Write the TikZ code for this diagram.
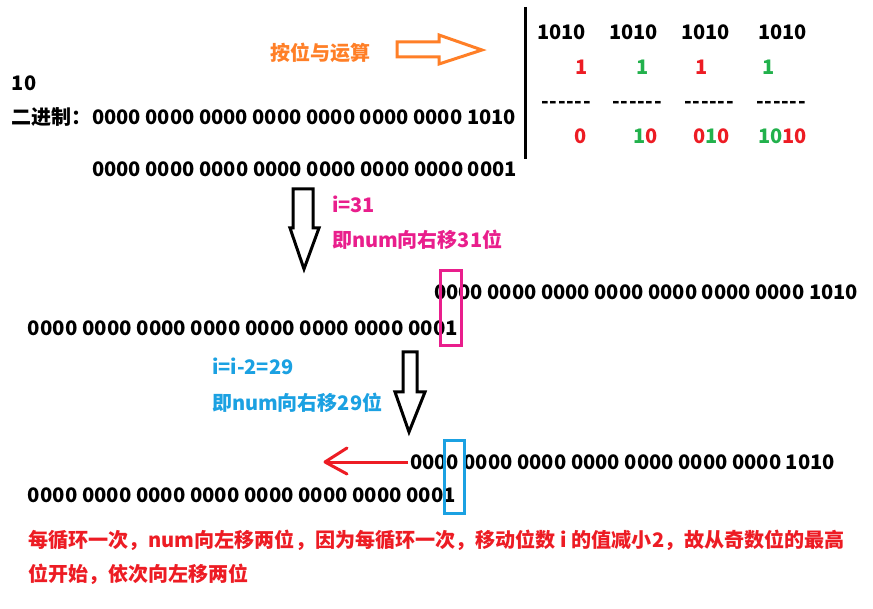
\documentclass[tikz,border=0pt]{standalone}
\usepackage{fontspec}
\setmainfont{Noto Sans CJK SC}
\usepackage{graphicx}
\definecolor{redc}{HTML}{ED1C24}
\definecolor{greenc}{HTML}{22B14C}
\definecolor{orangec}{HTML}{FF7F27}
\definecolor{pinkc}{HTML}{E91E8C}
\definecolor{bluec}{HTML}{1BA1E2}
\newcommand\fitw[2]{\resizebox{#1pt}{\height}{#2}}
\newcommand\onedash{\makebox[8.4pt][c]{-}}
\newcommand\dashrow{\onedash\onedash\onedash\onedash\onedash\onedash}
\tikzset{
  txt/.style={inner sep=0pt, outer sep=0pt, font=\fontsize{20}{24}\selectfont\bfseries},
  bigarrow/.style={draw=black, line width=3pt, line join=miter},
  markbox/.style={line width=3pt},
}
\begin{document}
\begin{tikzpicture}[x=1pt,y=-1pt]
\useasboundingbox (0,0) rectangle (873,609);
\fill[white] (0,0) rectangle (873,609);

% left block
\node[txt, anchor=base west] (ten) at (12,91) {10};
\node[txt, anchor=base west] (bin) at (11,125) {二进制：};
\node[txt, anchor=base west] (r1) at (92,125) {\fitw{424}{0000 0000 0000 0000 0000 0000 0000 1010}};
\node[txt, anchor=base west] (r2) at (92,177) {\fitw{425}{0000 0000 0000 0000 0000 0000 0000 0001}};

% orange label and arrow
\node[txt, anchor=base west, text=orangec] (andop) at (270,61) {按位与运算};
\draw[orangec, line width=3pt, line join=miter]
  (397,42) -- (439,42) -- (439,35) -- (482,50) -- (439,64) -- (439,57) -- (397,57) -- cycle;

% vertical separator
\draw[black, line width=3pt] (525,7) -- (525,159);

% top right computation
\node[txt, anchor=base east] (a1) at (586,40) {1010};
\node[txt, anchor=base east] (a2) at (658,40) {1010};
\node[txt, anchor=base east] (a3) at (730,40) {1010};
\node[txt, anchor=base east] (a4) at (807,40) {1010};
\node[txt, anchor=base west, text=redc] (b1) at (575,75) {1};
\node[txt, anchor=base west, text=greenc] (b2) at (636,75) {1};
\node[txt, anchor=base west, text=redc] (b3) at (695,75) {1};
\node[txt, anchor=base west, text=greenc] (b4) at (762,75) {1};
\node[txt, anchor=base west] (d1) at (541,109) {\dashrow};
\node[txt, anchor=base west] (d2) at (612,109) {\dashrow};
\node[txt, anchor=base west] (d3) at (684,109) {\dashrow};
\node[txt, anchor=base west] (d4) at (756,109) {\dashrow};
\node[txt, anchor=base east] (c1) at (587,144) {\textcolor{redc}{0}};
\node[txt, anchor=base east] (c2) at (658,144) {\textcolor{greenc}{1}\textcolor{redc}{0}};
\node[txt, anchor=base east] (c3) at (730,144) {\textcolor{redc}{0}\textcolor{greenc}{1}\textcolor{redc}{0}};
\node[txt, anchor=base east] (c4) at (807,144) {\textcolor{greenc}{10}\textcolor{redc}{10}};

% first step
\draw[bigarrow] (293,189) -- (313,189) -- (313,228) -- (319,228) -- (304,269) -- (290,228) -- (293,228) -- cycle;
\node[txt, anchor=base west, text=pinkc] (p1) at (332,213) {i=31};
\node[txt, anchor=base west, text=pinkc] (p2) at (332,248) {即num向右移31位};
\node[txt, anchor=base west] (r3) at (434,300) {\fitw{424}{0000 0000 0000 0000 0000 0000 0000 1010}};
\node[txt, anchor=base east] (r4) at (458,336) {\fitw{430}{0000 0000 0000 0000 0000 0000 0000 0001}};
\draw[pinkc, markbox] (440,271) rectangle (461,346);

% second step
\draw[bigarrow] (403,352) -- (417,352) -- (417,392) -- (425,392) -- (409,432) -- (395,392) -- (403,392) -- cycle;
\node[txt, anchor=base west, text=bluec] (q1) at (212,375) {i=i-2=29};
\node[txt, anchor=base west, text=bluec] (q2) at (212,411) {即num向右移29位};
\node[txt, anchor=base west] (r5) at (410,469) {\fitw{425}{0000 0000 0000 0000 0000 0000 0000 1010}};
\node[txt, anchor=base east] (r6) at (456,502) {\fitw{428}{0000 0000 0000 0000 0000 0000 0000 0001}};
\draw[bluec, markbox] (444,441) rectangle (464,513);

% red left arrow
\coordinate (lt) at (325,462);
\draw[redc, line width=3pt] ([xshift=-2pt]r5.west |- lt) -- (lt);
\draw[redc, line width=3pt, line cap=round] (lt) -- ++(22,-14);
\draw[redc, line width=3pt, line cap=round] (lt) -- ++(22,12);

% bottom explanation
\node[txt, anchor=base west, text=redc] (e1) at (28,547) {\fitw{817}{每循环一次，num向左移两位，因为每循环一次，移动位数 i 的值减小2，故从奇数位的最高}};
\node[txt, anchor=base west, text=redc] (e2) at (28,581) {位开始，依次向左移两位};
\end{tikzpicture}
\end{document}
